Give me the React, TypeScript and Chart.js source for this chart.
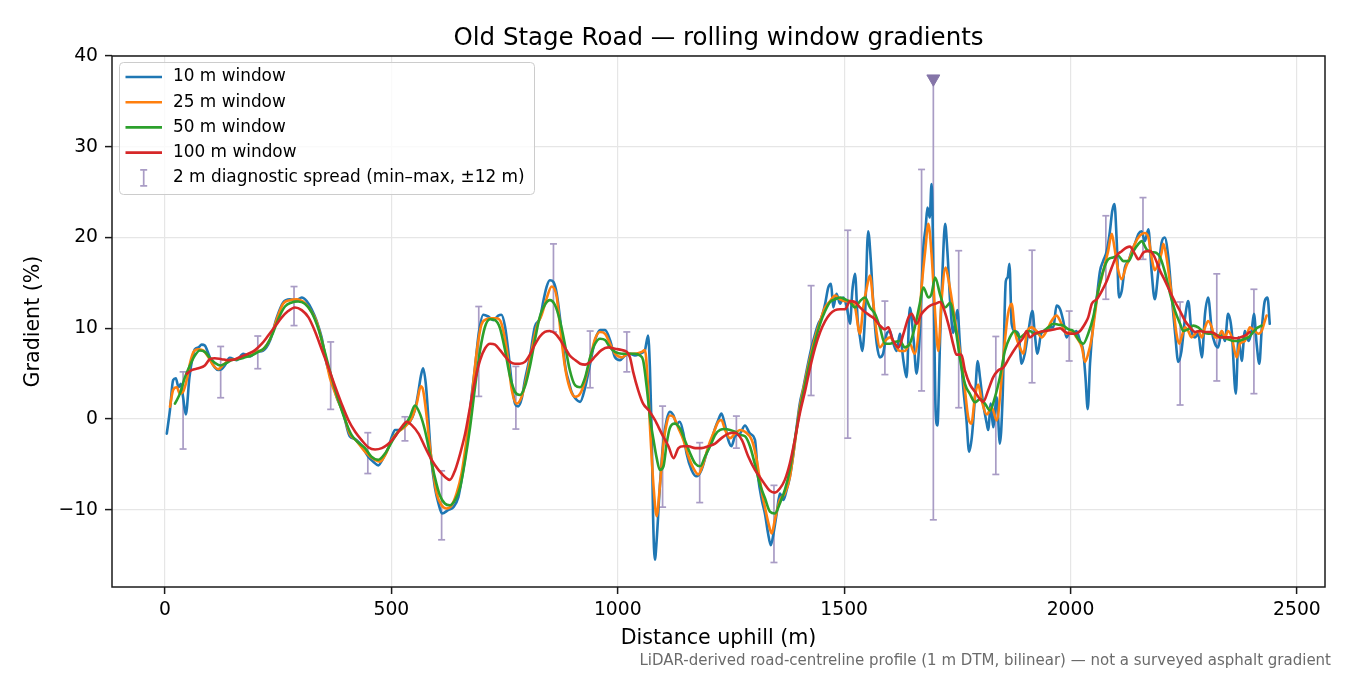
import React, { useEffect, useRef } from "react";
import { Chart, registerables } from "chart.js";

Chart.register(...registerables);

const FONT = "'DejaVu Sans', sans-serif";

const chartTitle = "Old Stage Road — rolling window gradients";
const xTitle = "Distance uphill (m)";
const yTitle = "Gradient (%)";
const footnote = "LiDAR-derived road-centreline profile (1 m DTM, bilinear) — not a surveyed asphalt gradient";

const xTickValues = [0, 500, 1000, 1500, 2000, 2500];
const yTickValues = [-10, 0, 10, 20, 30, 40];

const seriesLabels = ["10 m window", "25 m window", "50 m window", "100 m window"];
const seriesColors = ["#1f77b4", "#ff7f0e", "#2ca02c", "#d62728"];
const spreadLabel = "2 m diagnostic spread (min–max, ±12 m)";
const spreadColor = "#a99cc5";
const spikeColor = "#8575a8";

// [distance m, gradient %]
const window10m: [number, number][] = [
  [4, -1.6], [11, 1.0], [18, 4.3], [24, 4.5], [30, 3.5], [35, 3.9], [40, 2.4], [46, 0.5], [54, 4.6], [61, 6.8],
  [66, 7.7], [74, 7.9], [81, 8.2], [88, 8.1], [96, 7.2], [103, 6.3], [110, 5.7], [118, 5.4], [125, 5.5], [132, 5.9],
  [143, 6.75], [158, 6.5], [173, 7.2], [188, 6.9], [202, 7.4], [217, 7.55], [232, 8.65], [247, 11.2], [261, 12.85], [276, 13.2],
  [291, 13.1], [302, 13.4], [313, 13.0], [324, 12.1], [335, 10.8], [346, 9.0], [357, 6.1], [368, 4.45], [379, 2.45], [394, 0.6],
  [408, -1.9], [420, -2.2], [434, -2.9], [449, -4.15], [460, -4.7], [471, -5.1], [482, -4.3], [493, -3.2], [501, -1.95], [508, -1.2],
  [519, -1.2], [530, -0.66], [541, -0.3], [552, 1.0], [559, 2.8], [565, 4.7], [570, 5.6], [576, 3.9], [582, -0.1], [587, -3.8],
  [596, -7.5], [604, -9.3], [612, -10.4], [626, -10.0], [637, -9.7], [648, -8.6], [655, -6.7], [663, -4.15], [670, -0.85], [677, 2.5],
  [685, 5.8], [693, 9.45], [703, 11.5], [714, 11.3], [725, 10.9], [736, 11.4], [743, 11.5], [751, 10.2], [758, 7.6], [766, 3.9],
  [773, 1.7], [780, 1.4], [788, 2.3], [795, 4.3], [806, 6.9], [817, 10.2], [828, 11.1], [836, 13.1], [843, 14.6], [850, 15.3],
  [858, 15.1], [865, 13.9], [872, 11.3], [880, 7.6], [885, 5.5], [891, 4.3], [898, 3.0], [906, 2.3], [917, 1.9], [928, 3.5],
  [939, 6.1], [950, 8.7], [961, 9.8], [972, 9.8], [983, 8.7], [994, 6.8], [1005, 6.5], [1016, 7.0], [1027, 7.2], [1038, 7.0],
  [1049, 7.2], [1060, 7.6], [1067, 9.2], [1071, 5.7], [1075, -1.6], [1078, -10.7], [1082, -15.5], [1086, -13.3], [1093, -7.4], [1101, -2.3],
  [1108, -0.1], [1115, 0.8], [1123, 0.4], [1130, -0.5], [1137, -0.3], [1145, -1.6], [1152, -3.8], [1163, -5.6], [1174, -6.3], [1185, -5.6],
  [1196, -3.8], [1207, -2.3], [1215, -1.0], [1222, -0.1], [1229, 0.6], [1237, -0.7], [1244, -2.3], [1251, -3.0], [1259, -1.9], [1270, -1.6],
  [1281, -0.7], [1292, -1.6], [1303, -2.3], [1310, -6.4], [1318, -8.9], [1325, -10.4], [1332, -12.6], [1338, -13.9], [1344, -12.6], [1351, -10.4],
  [1358, -8.2], [1366, -8.9], [1373, -7.8], [1380, -6.4], [1388, -3.8], [1395, -0.9], [1402, 1.7], [1410, 3.5], [1417, 5.3], [1428, 7.9],
  [1436, 9.4], [1443, 10.5], [1450, 11.2], [1458, 12.7], [1465, 14.5], [1471, 14.9], [1476, 12.3], [1483, 13.8], [1491, 12.7], [1498, 13.4],
  [1506, 12.3], [1513, 10.5], [1518, 14.1], [1524, 16.0], [1530, 10.8], [1535, 9.0], [1540, 7.5], [1546, 11.2], [1553, 20.7], [1559, 17.4],
  [1564, 13.0], [1572, 8.3], [1579, 6.8], [1586, 7.2], [1594, 9.4], [1601, 9.7], [1609, 8.3], [1616, 7.5], [1623, 9.4], [1631, 6.4],
  [1638, 4.6], [1645, 12.3], [1653, 9.0], [1660, 5.0], [1667, 9.4], [1675, 18.9], [1680, 21.1], [1684, 23.3], [1689, 22.2], [1693, 25.9],
  [1698, 13.8], [1702, 0.95], [1706, -0.7], [1712, 9.0], [1717, 16.0], [1723, 21.5], [1728, 18.5], [1734, 13.0], [1741, 9.5], [1750, 12.0],
  [1756, 8.0], [1763, 3.5], [1770, 0.0], [1776, -3.6], [1782, -2.0], [1789, 2.4], [1795, 6.4], [1800, 4.6], [1807, 1.7], [1815, -0.5],
  [1818, -1.2], [1824, 1.7], [1829, -0.9], [1837, 2.4], [1844, -2.7], [1850, 2.4], [1857, 15.2], [1861, 15.6], [1865, 17.1], [1870, 10.5],
  [1877, 9.7], [1885, 9.4], [1892, 6.1], [1899, 7.2], [1907, 9.7], [1916, 11.9], [1921, 9.4], [1927, 7.2], [1935, 9.4], [1944, 9.7],
  [1955, 10.1], [1962, 10.1], [1969, 12.5], [1977, 12.1], [1984, 10.8], [1991, 9.0], [1999, 9.7], [2006, 9.4], [2013, 9.7], [2021, 8.6],
  [2028, 7.5], [2033, 4.6], [2038, 1.1], [2043, 6.1], [2050, 10.5], [2058, 13.4], [2065, 16.3], [2072, 17.4], [2080, 18.5], [2087, 20.7],
  [2092, 22.9], [2097, 23.7], [2102, 19.6], [2107, 13.4], [2113, 14.1], [2120, 16.7], [2128, 17.4], [2135, 18.5], [2142, 19.3], [2150, 20.4],
  [2157, 20.7], [2164, 19.6], [2172, 20.9], [2179, 16.3], [2186, 13.2], [2194, 16.3], [2201, 19.4], [2208, 20.0], [2216, 17.8], [2223, 13.8],
  [2231, 9.4], [2238, 6.3], [2245, 7.5], [2253, 11.2], [2260, 13.0], [2267, 9.7], [2275, 9.0], [2282, 9.4], [2290, 6.8], [2297, 11.6],
  [2304, 13.4], [2312, 9.7], [2319, 8.3], [2326, 7.9], [2334, 9.7], [2341, 8.6], [2348, 11.6], [2356, 9.7], [2365, 2.8], [2371, 9.0],
  [2378, 6.4], [2385, 9.7], [2393, 8.6], [2400, 9.7], [2405, 11.6], [2411, 8.3], [2417, 6.1], [2422, 9.7], [2429, 13.0], [2435, 13.4],
  [2440, 10.5],
];

const window25m: [number, number][] = [
  [11, 1.35], [18, 3.2], [26, 3.5], [33, 2.8], [40, 3.0], [48, 4.3], [55, 6.1], [63, 7.4], [74, 7.7], [85, 7.55],
  [96, 6.8], [107, 5.9], [118, 5.5], [129, 6.0], [143, 6.5], [158, 6.6], [173, 6.9], [188, 7.0], [202, 7.4], [217, 7.7],
  [232, 8.8], [247, 11.0], [261, 12.7], [276, 13.1], [291, 13.2], [305, 12.95], [320, 12.1], [335, 10.7], [350, 7.9], [364, 4.6],
  [379, 2.45], [394, 0.6], [408, -1.6], [423, -2.4], [442, -3.6], [464, -4.5], [475, -4.7], [486, -4.0], [501, -2.3], [515, -1.4],
  [530, -0.85], [545, 0.1], [556, 1.7], [565, 3.6], [570, 3.2], [578, 0.25], [585, -3.05], [593, -6.0], [600, -8.2], [611, -9.5],
  [622, -9.85], [633, -9.5], [644, -8.2], [655, -6.0], [666, -2.3], [677, 2.1], [688, 7.2], [699, 10.4], [710, 11.0], [721, 11.1],
  [732, 11.1], [743, 10.55], [755, 7.6], [766, 3.2], [777, 1.7], [788, 2.5], [799, 4.7], [810, 7.6], [821, 10.2], [832, 11.5],
  [843, 13.3], [854, 14.6], [865, 13.5], [874, 9.5], [883, 5.9], [894, 3.4], [906, 2.45], [917, 2.8], [928, 4.3], [939, 6.65],
  [950, 8.85], [961, 9.6], [972, 9.4], [983, 8.3], [994, 7.2], [1009, 6.8], [1023, 7.2], [1038, 7.2], [1053, 7.4], [1060, 7.6],
  [1066, 4.3], [1072, -1.6], [1079, -7.4], [1086, -10.7], [1093, -7.4], [1101, -2.7], [1108, -0.5], [1115, 0.4], [1123, 0.25], [1134, -1.0],
  [1145, -2.3], [1156, -4.1], [1167, -5.4], [1178, -6.1], [1189, -4.9], [1200, -3.0], [1211, -1.6], [1222, -0.3], [1229, -0.1], [1237, -1.2],
  [1248, -2.1], [1259, -1.6], [1270, -1.2], [1281, -1.4], [1296, -2.3], [1305, -4.0], [1314, -6.7], [1320, -8.5], [1325, -9.7], [1333, -11.5],
  [1340, -12.6], [1347, -11.1], [1358, -8.9], [1369, -8.2], [1380, -6.4], [1391, -2.7], [1402, 1.3], [1414, 4.25], [1425, 6.8], [1436, 9.0],
  [1447, 10.8], [1458, 12.3], [1469, 13.0], [1480, 13.6], [1491, 13.2], [1502, 13.0], [1513, 13.0], [1524, 12.3], [1535, 9.4], [1542, 12.3],
  [1550, 14.5], [1557, 15.8], [1564, 13.0], [1572, 9.4], [1579, 7.9], [1590, 8.6], [1601, 9.0], [1612, 8.3], [1623, 7.5], [1634, 7.5],
  [1645, 8.3], [1656, 7.2], [1664, 9.4], [1671, 14.5], [1679, 18.5], [1686, 21.5], [1693, 18.2], [1701, 11.6], [1708, 7.5], [1715, 13.0],
  [1724, 16.7], [1730, 15.5], [1737, 13.4], [1745, 10.8], [1752, 8.6], [1760, 6.0], [1767, 3.1], [1774, 0.2], [1781, -0.5], [1789, 2.5],
  [1796, 3.8], [1804, 2.0], [1815, 0.5], [1826, 1.3], [1837, -0.15], [1848, 4.6], [1855, 8.6], [1862, 11.6], [1870, 12.7], [1877, 9.7],
  [1888, 7.9], [1896, 7.2], [1903, 9.4], [1914, 10.1], [1925, 9.7], [1936, 9.0], [1947, 9.7], [1958, 10.8], [1969, 11.4], [1980, 10.5],
  [1991, 9.4], [2002, 9.7], [2013, 9.0], [2025, 7.9], [2032, 6.3], [2039, 7.2], [2047, 9.0], [2054, 11.6], [2061, 14.1], [2069, 15.6],
  [2076, 17.1], [2083, 18.5], [2091, 20.4], [2097, 18.9], [2104, 16.7], [2113, 15.4], [2122, 16.7], [2131, 17.8], [2142, 19.3], [2153, 20.2],
  [2164, 20.5], [2172, 20.0], [2179, 17.8], [2186, 16.4], [2194, 17.2], [2201, 18.3], [2205, 19.3], [2212, 17.8], [2220, 14.9], [2227, 12.3],
  [2234, 9.4], [2240, 8.3], [2245, 9.0], [2253, 10.1], [2260, 9.7], [2267, 9.0], [2275, 9.4], [2282, 9.7], [2290, 9.0], [2297, 10.1],
  [2304, 10.8], [2312, 10.1], [2319, 9.0], [2326, 9.0], [2334, 9.7], [2341, 9.0], [2348, 9.7], [2356, 9.0], [2367, 6.8], [2374, 8.3],
  [2385, 8.6], [2396, 10.1], [2407, 9.7], [2415, 9.4], [2422, 9.7], [2429, 10.8], [2433, 11.4],
];

const window50m: [number, number][] = [
  [22, 1.7], [33, 2.8], [44, 4.6], [55, 5.9], [66, 7.0], [77, 7.55], [88, 7.4], [99, 6.75], [110, 6.2], [122, 5.9],
  [133, 6.1], [147, 6.5], [162, 6.6], [177, 6.8], [191, 7.0], [206, 7.4], [221, 7.9], [236, 9.2], [250, 11.0], [265, 12.4],
  [280, 12.85], [294, 12.95], [309, 12.7], [324, 11.75], [339, 9.9], [353, 7.4], [368, 4.6], [383, 2.1], [398, -0.1], [412, -1.75],
  [427, -2.6], [442, -3.2], [456, -4.15], [471, -4.5], [486, -3.8], [501, -2.5], [515, -1.4], [530, -0.66], [541, 0.25], [552, 1.5],
  [563, 0.6], [574, -1.2], [585, -3.8], [596, -6.4], [607, -8.4], [618, -9.3], [629, -9.5], [641, -8.9], [652, -7.5], [663, -4.5],
  [674, -0.85], [685, 3.6], [696, 7.6], [707, 10.2], [718, 11.0], [729, 10.9], [740, 10.0], [751, 7.6], [762, 4.7], [773, 3.0],
  [784, 2.65], [795, 3.6], [806, 5.8], [817, 8.7], [828, 11.3], [839, 12.6], [850, 13.1], [861, 12.6], [872, 10.9], [883, 8.3],
  [894, 5.4], [906, 3.7], [917, 3.5], [928, 4.6], [939, 6.8], [950, 8.3], [961, 8.85], [972, 8.7], [983, 7.9], [994, 7.4],
  [1009, 7.2], [1023, 7.2], [1038, 7.2], [1049, 7.0], [1056, 6.5], [1064, 3.5], [1071, 0.25], [1079, -2.3], [1086, -4.3], [1093, -5.6],
  [1101, -5.2], [1108, -2.7], [1115, -1.0], [1126, -0.5], [1137, -1.0], [1148, -2.3], [1160, -3.8], [1171, -4.9], [1182, -5.2], [1193, -4.1],
  [1204, -3.0], [1215, -1.75], [1226, -1.2], [1237, -1.1], [1248, -1.2], [1259, -1.4], [1270, -1.75], [1281, -1.9], [1292, -3.0], [1303, -5.0],
  [1314, -7.2], [1325, -8.7], [1336, -10.2], [1347, -10.4], [1358, -9.3], [1369, -7.8], [1380, -5.6], [1391, -2.3], [1402, 0.95], [1414, 3.9],
  [1425, 6.45], [1436, 8.6], [1447, 10.5], [1458, 11.9], [1469, 12.9], [1480, 13.2], [1491, 13.4], [1502, 13.2], [1513, 12.9], [1524, 12.3],
  [1535, 13.0], [1546, 13.4], [1557, 12.3], [1568, 11.6], [1579, 10.1], [1590, 8.3], [1601, 8.3], [1612, 8.5], [1623, 8.6], [1634, 7.9],
  [1645, 8.3], [1656, 10.1], [1667, 12.7], [1675, 14.5], [1686, 13.4], [1693, 13.8], [1701, 15.6], [1712, 13.7], [1723, 12.3], [1734, 12.8],
  [1745, 10.3], [1756, 6.6], [1767, 3.85], [1778, 2.75], [1789, 1.85], [1800, 2.2], [1811, 1.7], [1822, 0.95], [1833, 2.4], [1844, 4.6],
  [1855, 7.5], [1866, 9.0], [1877, 9.7], [1888, 9.0], [1899, 9.4], [1910, 9.7], [1921, 9.4], [1936, 9.6], [1951, 10.1], [1962, 10.5],
  [1973, 10.4], [1984, 10.3], [1995, 9.9], [2006, 9.7], [2017, 8.8], [2028, 8.3], [2039, 9.4], [2050, 11.2], [2061, 14.1], [2072, 16.3],
  [2083, 17.6], [2094, 17.8], [2105, 18.0], [2117, 17.4], [2128, 17.4], [2139, 18.5], [2150, 19.3], [2157, 19.6], [2168, 18.7], [2179, 18.4],
  [2190, 18.3], [2198, 17.8], [2209, 16.1], [2220, 13.8], [2231, 11.9], [2242, 10.5], [2249, 9.7], [2260, 9.9], [2271, 10.3], [2282, 10.1],
  [2293, 9.6], [2304, 9.4], [2315, 9.4], [2326, 9.2], [2337, 9.0], [2348, 8.8], [2360, 8.6], [2371, 8.6], [2382, 8.8], [2393, 9.0],
  [2404, 9.6], [2411, 10.0], [2422, 10.3],
];

const window100m: [number, number][] = [
  [48, 5.0], [59, 5.4], [74, 5.6], [88, 5.9], [99, 6.6], [110, 6.7], [125, 6.6], [140, 6.5], [155, 6.6], [169, 6.9],
  [184, 7.2], [199, 7.6], [214, 8.3], [228, 9.2], [243, 10.2], [258, 11.2], [272, 11.9], [287, 12.3], [302, 12.0], [317, 11.2],
  [331, 9.7], [346, 7.7], [361, 5.7], [375, 3.7], [390, 1.7], [405, -0.1], [420, -1.4], [434, -2.3], [449, -3.1], [464, -3.35],
  [479, -3.2], [493, -2.75], [508, -1.95], [523, -0.85], [534, -0.3], [545, -0.66], [560, -1.6], [574, -3.05], [589, -4.5], [604, -5.6],
  [618, -6.35], [629, -6.7], [641, -5.6], [652, -3.8], [663, -1.6], [674, 1.4], [685, 4.3], [696, 6.5], [707, 7.8], [718, 8.3],
  [729, 8.2], [740, 7.6], [751, 6.9], [762, 6.3], [773, 6.1], [784, 6.1], [795, 6.3], [806, 7.1], [817, 8.2], [828, 9.1],
  [839, 9.6], [850, 9.7], [861, 9.45], [872, 8.8], [883, 7.9], [894, 7.0], [906, 6.5], [917, 6.1], [928, 6.0], [939, 6.3],
  [950, 6.9], [964, 7.6], [979, 7.9], [994, 7.75], [1009, 7.6], [1020, 7.4], [1027, 6.8], [1034, 5.2], [1045, 3.2], [1056, 1.7],
  [1068, 1.0], [1082, -0.1], [1097, -1.6], [1112, -3.0], [1123, -4.3], [1134, -3.2], [1145, -3.0], [1156, -3.0], [1171, -3.2], [1185, -3.2],
  [1200, -3.0], [1215, -2.7], [1229, -2.1], [1244, -1.6], [1259, -1.5], [1274, -2.3], [1288, -4.1], [1303, -5.6], [1314, -6.4], [1325, -7.2],
  [1336, -7.9], [1347, -8.1], [1358, -7.65], [1369, -6.7], [1380, -4.9], [1391, -2.3], [1402, 0.6], [1414, 3.15], [1425, 5.7], [1436, 7.9],
  [1447, 9.6], [1458, 10.8], [1469, 11.6], [1480, 12.0], [1491, 12.1], [1502, 12.1], [1513, 13.0], [1524, 12.9], [1535, 12.3], [1546, 11.8],
  [1557, 11.4], [1568, 11.0], [1579, 10.3], [1590, 9.9], [1598, 10.1], [1605, 9.0], [1612, 8.3], [1620, 7.9], [1631, 9.4], [1642, 11.2],
  [1649, 11.6], [1660, 10.5], [1671, 11.6], [1682, 12.2], [1690, 12.5], [1701, 12.7], [1712, 12.9], [1719, 12.3], [1726, 11.2], [1734, 9.7],
  [1741, 8.2], [1748, 7.1], [1759, 7.1], [1767, 5.3], [1778, 3.8], [1789, 3.0], [1800, 2.2], [1807, 1.9], [1818, 3.15], [1829, 4.6],
  [1840, 5.35], [1852, 5.7], [1863, 6.6], [1874, 7.5], [1885, 8.3], [1896, 9.0], [1903, 9.7], [1910, 9.0], [1921, 9.4], [1932, 9.6],
  [1944, 9.7], [1955, 9.8], [1966, 9.9], [1977, 10.0], [1988, 9.6], [1999, 9.4], [2010, 9.4], [2021, 9.7], [2032, 10.5], [2039, 11.2],
  [2047, 12.7], [2058, 13.2], [2069, 14.1], [2080, 15.2], [2091, 16.7], [2102, 18.0], [2113, 18.5], [2124, 18.9], [2131, 19.0], [2142, 18.2],
  [2150, 17.6], [2161, 18.35], [2170, 18.5], [2176, 18.5], [2186, 17.8], [2198, 16.3], [2209, 15.2], [2220, 14.0], [2231, 12.9], [2242, 11.9],
  [2253, 10.8], [2264, 10.1], [2275, 9.6], [2286, 9.7], [2297, 9.6], [2308, 9.6], [2319, 9.4], [2330, 9.0], [2341, 9.0], [2352, 9.0],
  [2363, 8.9], [2374, 9.0], [2385, 9.2], [2396, 9.6],
];

// diagnostic spread bars (min / max of 2 m gradients within ±12 m)
const spreadDist = [40, 123, 205, 285, 366, 448, 530, 611, 693, 775, 858, 939, 1020, 1099, 1181, 1262, 1345, 1427, 1508, 1590, 1671, 1753, 1835, 1915, 1997, 2078, 2160, 2242, 2323, 2405];
const spreadLow = [-3.3, 2.35, 5.55, 10.3, 1.07, -6.0, -2.4, -13.3, 2.5, -1.1, 9.6, 3.45, 5.2, -9.7, -9.2, -3.2, -15.8, 2.6, -2.1, 4.9, 3.1, 1.25, -6.1, 4.0, 6.4, 13.2, 17.6, 1.55, 4.2, 2.8];
const spreadHigh = [5.2, 8.0, 9.15, 14.6, 8.5, -1.5, 0.25, -5.7, 12.4, 5.8, 19.3, 9.7, 9.6, 1.43, -2.6, 0.33, -7.3, 14.7, 20.8, 13.0, 27.5, 18.55, 9.1, 18.6, 11.9, 22.4, 24.4, 12.9, 16.0, 14.3];

// off-scale spread at the spike: max clipped, marked with a triangle
const spikeDist = 1697;
const spikeLow = -11.1;
const spikeTop = 37.5;

const toPoints = (rows: [number, number][]) => rows.map(([x, y]) => ({ x, y }));
const fmt = (v: number) => (v < 0 ? "\u2212" + Math.abs(v) : String(v));

const decorPlugin = {
  id: "decor",
  afterDraw(chart: any) {
    const { ctx, chartArea: a } = chart;
    ctx.save();
    // frame
    ctx.strokeStyle = "#1a1a1a";
    ctx.lineWidth = 1.5;
    ctx.strokeRect(a.left, a.top, a.right - a.left, a.bottom - a.top);

    // title
    ctx.fillStyle = "#000";
    ctx.font = `24.5px ${FONT}`;
    ctx.textAlign = "center";
    ctx.textBaseline = "alphabetic";
    ctx.fillText(chartTitle, (a.left + a.right) / 2, 44.5);

    // footnote
    ctx.fillStyle = "#6b6b6b";
    ctx.font = `15px ${FONT}`;
    ctx.textAlign = "right";
    ctx.textBaseline = "middle";
    ctx.fillText(footnote, 1331, 661);

    // legend
    ctx.beginPath();
    ctx.roundRect(119.5, 62.5, 415, 132, 4);
    ctx.fillStyle = "rgba(255,255,255,0.8)";
    ctx.fill();
    ctx.strokeStyle = "#cccccc";
    ctx.lineWidth = 1;
    ctx.stroke();

    ctx.font = `16.9px ${FONT}`;
    ctx.textAlign = "left";
    ctx.textBaseline = "middle";
    const rowY = (i: number) => 77 + 25.2 * i;
    seriesLabels.forEach((label, i) => {
      const y = rowY(i);
      ctx.strokeStyle = seriesColors[i];
      ctx.lineWidth = 2.6;
      ctx.beginPath();
      ctx.moveTo(125.5, y);
      ctx.lineTo(162, y);
      ctx.stroke();
      ctx.fillStyle = "#000";
      ctx.fillText(label, 173, y);
    });
    const ey = rowY(4);
    ctx.strokeStyle = spreadColor;
    ctx.lineWidth = 1.7;
    ctx.beginPath();
    ctx.moveTo(143.7, ey - 8);
    ctx.lineTo(143.7, ey + 8);
    ctx.moveTo(140.2, ey - 8);
    ctx.lineTo(147.2, ey - 8);
    ctx.moveTo(140.2, ey + 8);
    ctx.lineTo(147.2, ey + 8);
    ctx.stroke();
    ctx.fillStyle = "#000";
    ctx.fillText(spreadLabel, 173, ey);
    ctx.restore();
  },
};

const App: React.FC = () => {
  const canvasRef = useRef<HTMLCanvasElement>(null);

  useEffect(() => {
    if (!canvasRef.current) return;

    const spreadPoints = spreadDist.flatMap((x, i) => [
      { x, y: spreadLow[i] },
      { x, y: spreadHigh[i] },
      { x, y: null as any },
    ]);

    const series = [window10m, window25m, window50m, window100m].map((rows, i) => ({
      label: seriesLabels[i],
      data: toPoints(rows),
      borderColor: seriesColors[i],
      backgroundColor: seriesColors[i],
      borderWidth: 2.6,
      pointRadius: 0,
      cubicInterpolationMode: "monotone" as const,
      borderJoinStyle: "round" as const,
      borderCapStyle: "round" as const,
      order: 4 - i,
    }));

    const chart = new Chart(canvasRef.current, {
      type: "line",
      data: {
        datasets: [
          ...series,
          {
            label: spreadLabel,
            data: spreadPoints,
            borderColor: spreadColor,
            borderWidth: 1.7,
            pointStyle: "line",
            pointRadius: 3.5,
            pointBorderWidth: 1.7,
            pointBorderColor: spreadColor,
            pointBackgroundColor: spreadColor,
            spanGaps: false,
            order: 10,
          },
          {
            label: "spike",
            data: [
              { x: spikeDist, y: spikeLow },
              { x: spikeDist, y: spikeTop },
            ],
            borderColor: spreadColor,
            borderWidth: 1.7,
            pointStyle: ["line", "triangle"],
            pointRotation: [0, 180],
            pointRadius: [3.5, 7.5],
            pointBorderWidth: [1.7, 1],
            pointBorderColor: [spreadColor, spikeColor],
            pointBackgroundColor: [spreadColor, spikeColor],
            clip: false,
            order: 9,
          } as any,
        ],
      },
      options: {
        animation: false,
        responsive: false,
        events: [],
        layout: { padding: { top: 56, right: 25, left: 0, bottom: 0 } },
        plugins: {
          legend: { display: false },
          tooltip: { enabled: false },
          title: { display: false },
        },
        scales: {
          x: {
            type: "linear",
            min: -117,
            max: 2562,
            afterBuildTicks: (s: any) => {
              s.ticks = xTickValues.map((value) => ({ value }));
            },
            ticks: {
              maxRotation: 0,
              autoSkip: false,
              padding: 5,
              color: "#000",
              font: { family: FONT, size: 18.75 },
              callback: (v: any) => fmt(Number(v)),
            },
            grid: { color: "#e6e6e6", lineWidth: 1.2, tickColor: "#1a1a1a", tickLength: 7, tickWidth: 1.5 },
            border: { display: false },
            title: {
              display: true,
              text: xTitle,
              color: "#000",
              font: { family: FONT, size: 20.6 },
              padding: { top: 0, bottom: 24 },
            },
            afterFit: (s: any) => {
              s.height = 88;
            },
          },
          y: {
            type: "linear",
            min: -18.5,
            max: 40,
            afterBuildTicks: (s: any) => {
              s.ticks = yTickValues.map((value) => ({ value }));
            },
            ticks: {
              autoSkip: false,
              padding: 7,
              color: "#000",
              font: { family: FONT, size: 18.75 },
              callback: (v: any) => fmt(Number(v)),
            },
            grid: { color: "#e6e6e6", lineWidth: 1.2, tickColor: "#1a1a1a", tickLength: 7, tickWidth: 1.5 },
            border: { display: false },
            title: {
              display: true,
              text: yTitle,
              color: "#000",
              font: { family: FONT, size: 20.6 },
              padding: { top: 21.6, bottom: 0 },
            },
            afterFit: (s: any) => {
              s.width = 112;
            },
          },
        },
      },
      plugins: [decorPlugin],
    });

    return () => {
      chart.destroy();
    };
  }, []);

  return (
    <div style={{ position: "absolute", left: 0, top: 0, width: 1350, height: 675, background: "#fff" }}>
      <canvas ref={canvasRef} width={1350} height={675} style={{ display: "block" }}></canvas>
    </div>
  );
};

export default App;
